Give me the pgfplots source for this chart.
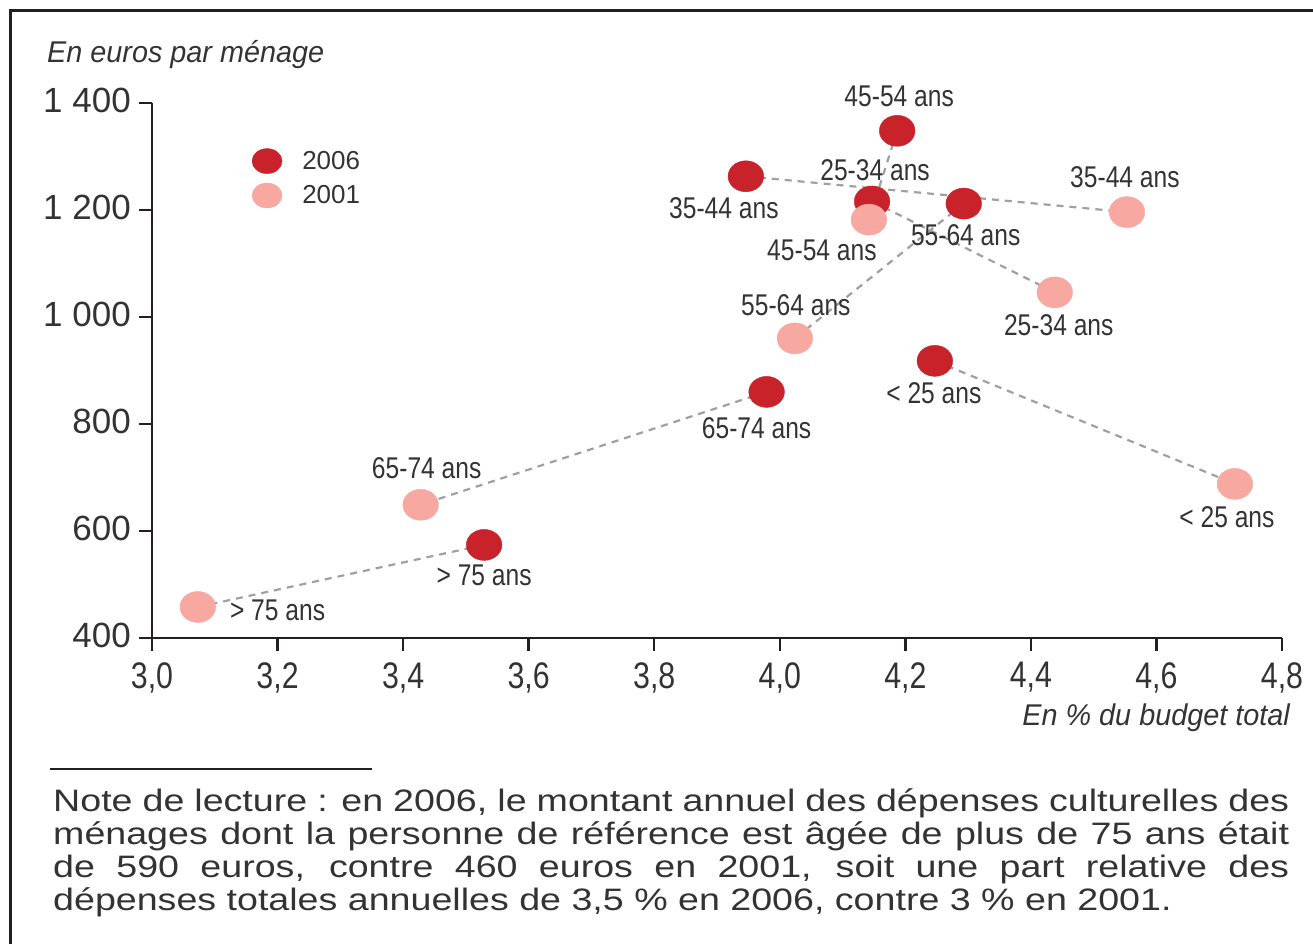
\documentclass[border=0pt]{standalone}
\usepackage{pgfplots}
\pgfplotsset{compat=1.18}
\usepackage{fontspec}
\setmainfont{Liberation Sans}
\newfontfamily\condfont[FakeStretch=0.82]{Liberation Sans}
\newfontfamily\titlefont[FakeStretch=0.96]{Liberation Sans}
\newfontfamily\notefont[FakeStretch=1.213]{Liberation Sans}
\definecolor{darkred}{HTML}{C8222A}
\definecolor{pinkc}{HTML}{F7A8A0}
\definecolor{axisblack}{HTML}{231F20}
\definecolor{dashgray}{HTML}{A0A0A0}
\definecolor{textgray}{HTML}{333333}

\begin{document}
\begin{tikzpicture}[x=1pt,y=1pt]
\useasboundingbox (0,0) rectangle (1313,944);
\draw[line width=2.7pt, axisblack] (10.7,0) -- (10.7,933.4) -- (1313,933.4);
\begin{axis}[
  at={(152pt,306pt)}, anchor=south west,
  scale only axis, width=1130pt, height=535pt,
  xmin=3, xmax=4.8, ymin=400, ymax=1400,
  axis lines*=left,
  axis line style={line width=2.8pt, axisblack},
  clip=false,
  xtick={3,3.2,3.4,3.6,3.8,4.0,4.2,4.4,4.6,4.8},
  xticklabels={{3,0},{3,2},{3,4},{3,6},{3,8},{4,0},{4,2},{4,4},{4,6},{4,8}},
  ytick={400,600,800,1000,1200,1400},
  yticklabels={400,600,800,{1 000},{1 200},{1 400}},
  tick align=outside,
  major tick length=13pt,
  tick style={line width=2.5pt, axisblack},
  xticklabel style={font=\condfont\fontsize{37}{37}\selectfont, text=textgray, anchor=north, inner sep=0pt, yshift=-11pt},
  yticklabel style={font=\fontsize{35}{35}\selectfont, text=textgray, anchor=east, inner sep=0pt, xshift=-8pt, yshift=3pt},
  legend cell align=left,
  legend style={at={(rel axis cs:0.0882,0.9155)}, anchor=north west, draw=none, fill=none,
    inner sep=0pt, column sep=20pt, row sep=9pt,
    nodes={inner sep=0pt, font=\fontsize{26}{26}\selectfont, text=textgray}},
  legend image code/.code={\fill (0.3cm,0) ellipse (15pt and 12.5pt);},
]
% connecting dashed lines (2006 -> 2001, same age group)
\addplot[dashgray, line width=2.2pt, dash pattern=on 7pt off 6pt, forget plot] coordinates {(4.187,1348) (4.142,1182)};
\addplot[dashgray, line width=2.2pt, dash pattern=on 7pt off 6pt, forget plot] coordinates {(3.946,1263) (4.553,1196)};
\addplot[dashgray, line width=2.2pt, dash pattern=on 7pt off 6pt, forget plot] coordinates {(4.147,1216) (4.438,1046)};
\addplot[dashgray, line width=2.2pt, dash pattern=on 7pt off 6pt, forget plot] coordinates {(4.293,1212) (4.024,960)};
\addplot[dashgray, line width=2.2pt, dash pattern=on 7pt off 6pt, forget plot] coordinates {(4.247,918) (4.725,688)};
\addplot[dashgray, line width=2.2pt, dash pattern=on 7pt off 6pt, forget plot] coordinates {(3.979,860) (3.428,649)};
\addplot[dashgray, line width=2.2pt, dash pattern=on 7pt off 6pt, forget plot] coordinates {(3.529,574) (3.073,458)};
% 2006
\addplot[only marks, mark=*, mark size=15.5pt, darkred, mark options={draw=none, fill=darkred, xscale=1.15}]
coordinates {(4.187,1348) (3.946,1263) (4.147,1216) (4.293,1212) (4.247,918) (3.979,860) (3.529,574)};
\addlegendentry{2006}
% 2001
\addplot[only marks, mark=*, mark size=15.5pt, pinkc, mark options={draw=none, fill=pinkc, xscale=1.15}]
coordinates {(4.142,1182) (4.553,1196) (4.438,1046) (4.024,960) (4.725,688) (3.428,649) (3.073,458)};
\addlegendentry{2001}
% labels
\begin{scope}[every node/.style={font=\condfont\fontsize{30}{30}\selectfont, text=textgray, inner sep=0pt}]
\node at (axis cs:4.187,1348) [xshift=2pt, yshift=34pt] {45-54 ans};
\node at (axis cs:4.147,1216) [xshift=3pt, yshift=31pt] {25-34 ans};
\node at (axis cs:3.946,1263) [xshift=-22pt, yshift=-32pt] {35-44 ans};
\node at (axis cs:4.293,1212) [xshift=2pt, yshift=-32pt] {55-64 ans};
\node at (axis cs:4.247,918) [xshift=-1pt, yshift=-32pt] {< 25 ans};
\node at (axis cs:3.979,860) [xshift=-10pt, yshift=-36pt] {65-74 ans};
\node at (axis cs:3.529,574) [xshift=0pt, yshift=-30pt] {> 75 ans};
\node at (axis cs:4.553,1196) [xshift=-2pt, yshift=35pt] {35-44 ans};
\node at (axis cs:4.142,1182) [xshift=-47pt, yshift=-31pt] {45-54 ans};
\node at (axis cs:4.438,1046) [xshift=4pt, yshift=-33pt] {25-34 ans};
\node at (axis cs:4.024,960) [xshift=1pt, yshift=33pt] {55-64 ans};
\node at (axis cs:4.725,688) [xshift=-8pt, yshift=-33pt] {< 25 ans};
\node at (axis cs:3.428,649) [xshift=6pt, yshift=37pt] {65-74 ans};
\node[anchor=west] at (axis cs:3.073,458) [xshift=32pt, yshift=-3pt] {> 75 ans};
\end{scope}
\end{axis}
% axis titles
\node[anchor=west, inner sep=0pt, text=textgray, font=\titlefont\itshape\fontsize{30}{30}\selectfont] at (47,889) {En euros par ménage};
\node[anchor=east, inner sep=0pt, text=textgray, font=\titlefont\itshape\fontsize{30}{30}\selectfont] at (1290,226) {En \% du budget total};
% note
\draw[line width=2.6pt, axisblack] (50,175) -- (372,175);
\node[anchor=base west, inner sep=0pt, text width=1236pt, align=justify, text=textgray,
  font=\notefont\fontsize{31}{33}\selectfont] at (53,132)
{Note de lecture : en 2006, le montant annuel des dépenses culturelles des\linebreak
ménages dont la personne de référence est âgée de plus de 75 ans était\linebreak
de 590 euros, contre 460 euros en 2001, soit une part relative des\linebreak
dépenses totales annuelles de 3,5 \% en 2006, contre 3 \% en 2001.};
\end{tikzpicture}
\end{document}
